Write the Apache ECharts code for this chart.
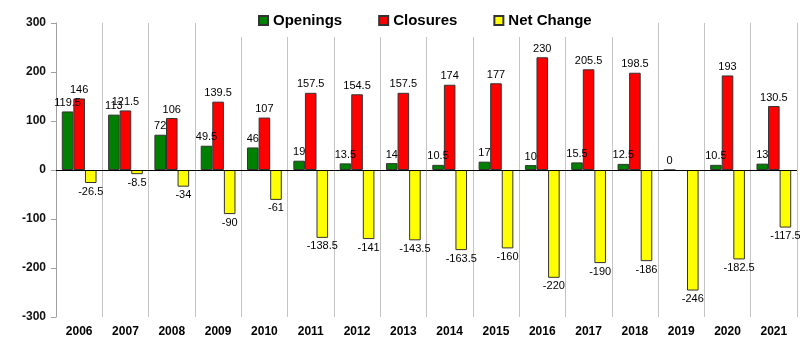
<!DOCTYPE html>
<html><head><meta charset="utf-8">
<script src="https://cdn.jsdelivr.net/npm/echarts@6/dist/echarts.min.js"></script>
<style>html,body{margin:0;padding:0;background:#fff}#c{width:800px;height:358px}</style>
</head><body><div id="c"></div>
<script>
const years = ['2006','2007','2008','2009','2010','2011','2012','2013','2014','2015','2016','2017','2018','2019','2020','2021'];
const openings = [119.5,113,72,49.5,46,19,13.5,14,10.5,17,10,15.5,12.5,0,10.5,13];
const closures = [146,121.5,106,139.5,107,157.5,154.5,157.5,174,177,230,205.5,198.5,null,193,130.5];
const netChange = [-26.5,-8.5,-34,-90,-61,-138.5,-141,-143.5,-163.5,-160,-220,-190,-186,-246,-182.5,-117.5];
const yTicks = {min:-300, max:300, interval:100};

const FONT = 'Arial, "Liberation Sans", sans-serif';
const chart = echarts.init(document.getElementById('c'), null, {renderer:'canvas'});
const lbl = (pos) => ({show:true, position:pos, distance:3, color:'#000', fontSize:11, fontFamily:FONT});
chart.setOption({
  animation:false,
  backgroundColor:'#fff',
  textStyle:{fontFamily:FONT},
  legend:{
    left:235, top:0, padding:[13,64,9,23], itemGap:36, itemWidth:9, itemHeight:9,
    backgroundColor:'#fff', icon:'rect',
    textStyle:{fontSize:15, fontWeight:'bold', color:'#000', fontFamily:FONT},
    data:['Openings','Closures','Net Change']
  },
  grid:{left:56, right:3, top:23, bottom:41, containLabel:false},
  xAxis:{
    type:'category', data:years, position:'bottom',
    axisLine:{show:false, onZero:false}, axisTick:{show:false},
    axisLabel:{fontSize:12, fontWeight:'bold', color:'#000', margin:9, interval:0, fontFamily:FONT},
    splitLine:{show:true, interval:0, lineStyle:{color:'#c4c4c4', width:1}}
  },
  yAxis:{
    type:'value', min:yTicks.min, max:yTicks.max, interval:yTicks.interval,
    axisLine:{show:true, lineStyle:{color:'#a0a0a0'}},
    axisTick:{show:true, length:5, lineStyle:{color:'#a0a0a0'}},
    axisLabel:{fontSize:12, fontWeight:'bold', color:'#111', margin:10, fontFamily:FONT},
    splitLine:{show:false}
  },
  series:[
    {name:'Openings', type:'bar', data:openings, barGap:'0%', barCategoryGap:'25%',
     itemStyle:{color:'#008000', borderColor:'#333', borderWidth:1}, label:lbl('top'),
     markLine:{silent:true, symbol:'none', label:{show:false}, lineStyle:{color:'#000', width:1, type:'solid'}, data:[{yAxis:0}]}},
    {name:'Closures', type:'bar', data:closures,
     itemStyle:{color:'#ff0000', borderColor:'#333', borderWidth:1}, label:lbl('top')},
    {name:'Net Change', type:'bar', data:netChange,
     itemStyle:{color:'#ffff00', borderColor:'#333', borderWidth:1}, label:lbl('bottom')}
  ]
});
</script></body></html>
